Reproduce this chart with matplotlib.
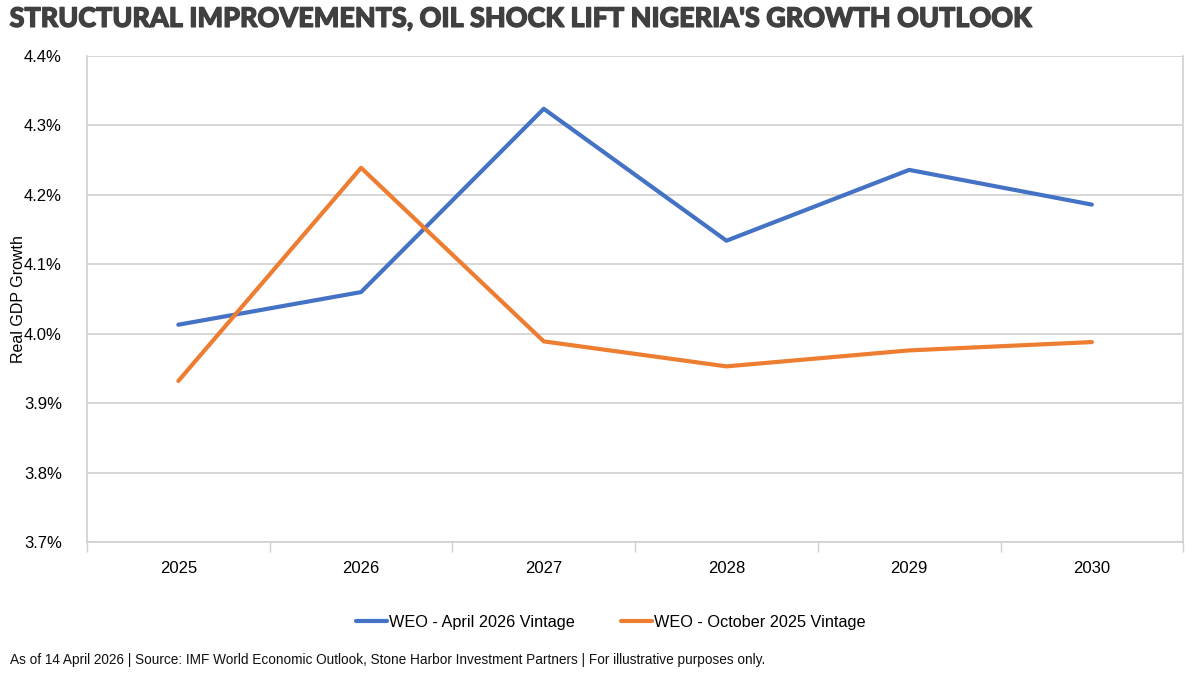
import matplotlib
matplotlib.use("Agg")
import matplotlib.pyplot as plt
import matplotlib.patheffects as pe
from matplotlib.ticker import FuncFormatter, FixedLocator

years = ["2025", "2026", "2027", "2028", "2029", "2030"]
weo_apr_2026 = [4.013, 4.060, 4.324, 4.134, 4.236, 4.186]
weo_oct_2025 = [3.932, 4.239, 3.989, 3.953, 3.976, 3.988]
series_names = ["WEO - April 2026 Vintage", "WEO - October 2025 Vintage"]
title = "STRUCTURAL IMPROVEMENTS, OIL SHOCK LIFT NIGERIA'S GROWTH OUTLOOK"
footer = ("As of 14 April 2026 | Source: IMF World Economic Outlook, Stone Harbor "
          "Investment Partners | For illustrative purposes only.")
ylabel = "Real GDP Growth"

base = "Liberation Sans"

fig = plt.figure(figsize=(12, 6.75), dpi=100)
ax = fig.add_axes([0.0725, 0.197, 0.9135, 0.72])

x = list(range(len(years)))
ax.plot(x, weo_apr_2026, color="#4472C4", lw=3.0, label=series_names[0], solid_capstyle="round", zorder=3)
ax.plot(x, weo_oct_2025, color="#ED7D31", lw=3.0, label=series_names[1], solid_capstyle="round", zorder=3)

ax.set_xlim(-0.5, len(years) - 0.5)
ax.set_ylim(3.7, 4.4)
ax.set_yticks([3.7, 3.8, 3.9, 4.0, 4.1, 4.2, 4.3, 4.4])
ax.yaxis.set_major_formatter(FuncFormatter(lambda v, p: f"{v:.1f}%"))
ax.set_xticks(x)
ax.set_xticklabels(years)
ax.xaxis.set_minor_locator(FixedLocator([i - 0.5 for i in range(len(years) + 1)]))
ax.tick_params(axis="x", which="major", length=0, pad=14, labelsize=12)
ax.tick_params(axis="x", which="minor", length=7, color="#D0D0D0", width=1)
ax.tick_params(axis="y", length=0, pad=18, labelsize=12)
for lab in ax.get_xticklabels() + ax.get_yticklabels():
    lab.set_fontfamily(base)

ax.grid(axis="y", color="#D0D0D0", lw=1.2, zorder=0)
for s in ["left", "right", "bottom"]:
    ax.spines[s].set_color("#D0D0D0")
    ax.spines[s].set_linewidth(1.2)
ax.spines["top"].set_visible(False)

ax.set_ylabel(ylabel, fontsize=11.5, family=base)
ax.yaxis.set_label_coords(-0.056, 0.5)

fig.text(0.008, 0.972, title, fontsize=19.4, fontweight="black", color="#404040",
         family=["Lato", "DejaVu Sans"], va="center", ha="left",
         path_effects=[pe.withStroke(linewidth=0.9, foreground="#404040")])

leg = fig.legend(loc="center", bbox_to_anchor=(0.509, 0.078), ncol=2, frameon=False,
                 handlelength=1.9, columnspacing=2.8, handletextpad=0.15,
                 prop={"family": base, "size": 11.7})
for line in leg.get_lines():
    line.set_linewidth(3.0)

fig.text(0.008, 0.022, footer, fontsize=9.8, color="#111111", family=base,
         va="center", ha="left")

fig.savefig("out.png", dpi=100)
